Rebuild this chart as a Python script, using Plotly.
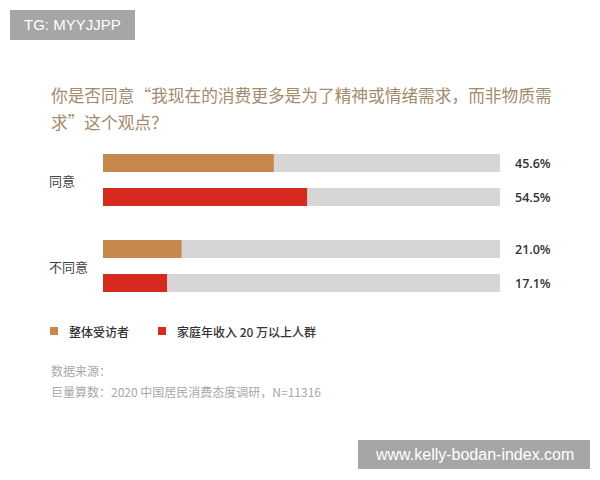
import plotly.graph_objects as go

# ---- data ----
categories = ["同意", "不同意"]
series_names = ["整体受访者", "家庭年收入 20 万以上人群"]
overall = [45.6, 21.0]
high_income = [54.5, 17.1]
track_max = 106  # length of grey background track (axis units)

title_lines = ["你是否同意“我现在的消费更多是为了精神或情绪需求，而非物质需", "求”这个观点？"]
source_lines = ["数据来源：", "巨量算数：2020 中国居民消费态度调研，N=11316"]

# ---- style ----
OFF = 8  # page body margin
W, H = 600 - OFF, 480 - OFF
L, R, T, B = 103 - OFF, 100, 137 - OFF, 171
PW, PH = W - L - R, H - T - B
COL_A = "#c6884c"
COL_B = "#d52a20"
TRACK = "#d6d6d6"
CJK = "Noto Sans CJK SC"


def px_x(p):
    return (p - OFF - L) / PW


def px_y(p):
    return 1 - (p - OFF - T) / PH


fig = go.Figure()
for og in ["a", "b"]:
    fig.add_trace(go.Bar(
        y=categories, x=[track_max] * len(categories), orientation="h",
        marker=dict(color=TRACK, line=dict(width=0)), offsetgroup=og,
        showlegend=False, hoverinfo="skip"))
for og, vals, col, name in [("a", overall, COL_A, series_names[0]),
                            ("b", high_income, COL_B, series_names[1])]:
    fig.add_trace(go.Bar(
        y=categories, x=vals, orientation="h", name=name,
        marker=dict(color=col, line=dict(width=0)), offsetgroup=og,
        showlegend=False))

annotations = []
# value labels
for vals, shift in [(overall, 17), (high_income, -17)]:
    for cat, v in zip(categories, vals):
        annotations.append(dict(
            x=track_max, y=cat, xref="x", yref="y", text=f"{v:.1f}%",
            showarrow=False, xanchor="left", xshift=13, yshift=shift,
            font=dict(family="Open Sans", size=12.5, color="#333333", weight=600)))
# category labels
for cat in categories:
    annotations.append(dict(
        x=px_x(47), y=cat, xref="paper", yref="y", text=cat, showarrow=False,
        xanchor="left", font=dict(family=CJK, size=13, color="#444444")))
# title (two lines)
for line, yy in zip(title_lines, [95, 122]):
    annotations.append(dict(
        x=px_x(49), y=px_y(yy), xref="paper", yref="paper", text=line,
        showarrow=False, xanchor="left", yanchor="middle", align="left",
        font=dict(family=CJK, size=16.7, color="#a58a6c")))
# legend (manual)
shapes = []
for (sx, tx), name, col in zip([(50, 67), (158, 175)], series_names, [COL_A, COL_B]):
    shapes.append(dict(type="rect", xref="paper", yref="paper",
                       x0=px_x(sx), x1=px_x(sx + 8), y0=px_y(335), y1=px_y(327),
                       fillcolor=col, line=dict(width=0)))
    annotations.append(dict(
        x=px_x(tx), y=px_y(331), xref="paper", yref="paper", text=name,
        showarrow=False, xanchor="left", yanchor="middle",
        font=dict(family=CJK, size=12, color="#333333", weight=500)))
# source
for line, yy in zip(source_lines, [370, 391]):
    annotations.append(dict(
        x=px_x(49), y=px_y(yy), xref="paper", yref="paper", text=line,
        showarrow=False, xanchor="left", yanchor="middle",
        font=dict(family=CJK, size=12, color="#a8a8a8")))
# watermarks
for (x0, y0, x1, y1), txt, fs in [((10, 10, 135, 40), "TG: MYYJJPP", 15),
                                  ((358, 440, 590, 469), "www.kelly-bodan-index.com", 16)]:
    shapes.append(dict(type="rect", xref="paper", yref="paper",
                       x0=px_x(x0), x1=px_x(x1), y0=px_y(y1), y1=px_y(y0),
                       fillcolor="#a6a6a6", line=dict(width=0), layer="above"))
    annotations.append(dict(
        x=px_x((x0 + x1) / 2), y=px_y((y0 + y1) / 2), xref="paper", yref="paper",
        text=txt, showarrow=False, xanchor="center", yanchor="middle",
        font=dict(family="Liberation Sans", size=fs, color="#ffffff")))

fig.update_layout(
    width=W, height=H, margin=dict(l=L, r=R, t=T, b=B),
    paper_bgcolor="white", plot_bgcolor="white",
    barmode="group", bargap=0.21, bargroupgap=0.47,
    xaxis=dict(range=[0, track_max], visible=False, fixedrange=True),
    yaxis=dict(autorange="reversed", showticklabels=False, showgrid=False,
               zeroline=False, showline=False, ticks="", fixedrange=True),
    annotations=annotations, shapes=shapes, showlegend=False,
)
fig.write_html("out.html")
